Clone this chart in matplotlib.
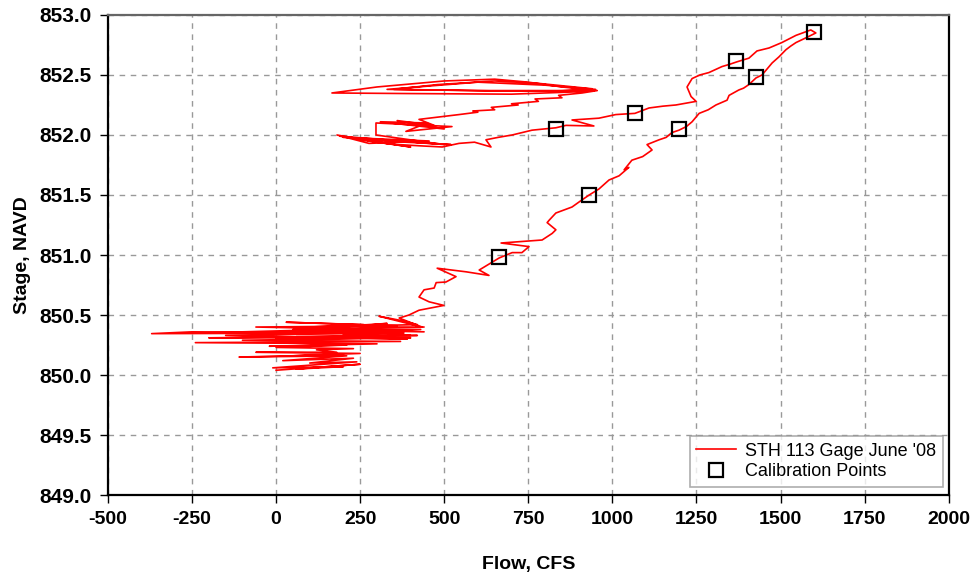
import numpy as np
import matplotlib
matplotlib.use("Agg")
import matplotlib.pyplot as plt

plt.rcParams['font.family'] = ['Liberation Sans', 'DejaVu Sans']

# low water cluster (start of record)
flow_low = [0, 250, 60, 200, -10, 240, 100, 230, 20, 210, -110, 200, 50, 250, -60, 180, 120,
            230, 0, 210, -20, 300, -240, 370, -100, 400, 0, 230, -200, 420, 60, 390, -150,
            330, -370, -250, 380, -280, 150, -50, 430, 80, 300, -60, 360, 30, 260, 100, 440,
            -100, 350, 200, 400, 180, 440, 50, 330, 250, 420, 380]
stage_low = [850.04, 850.09, 850.05, 850.07, 850.06, 850.11, 850.10, 850.14, 850.12, 850.16,
             850.15, 850.17, 850.16, 850.18, 850.19, 850.19, 850.21, 850.22, 850.23, 850.25,
             850.24, 850.26, 850.27, 850.28, 850.29, 850.31, 850.30, 850.31, 850.31, 850.33,
             850.32, 850.30, 850.33, 850.35, 850.345, 850.36, 850.35, 850.35, 850.36, 850.34,
             850.38, 850.37, 850.38, 850.40, 850.41, 850.44, 850.42, 850.40, 850.40, 850.36,
             850.37, 850.34, 850.33, 850.39, 850.36, 850.38, 850.43, 850.41, 850.42, 850.45]

# rising limb
flow_rise = [306, 434, 366, 395, 425, 499, 455, 425, 440, 470, 476, 505, 535, 479, 565, 633,
             604, 642, 663, 702, 731, 752, 669, 791, 821, 832, 806, 812, 832, 880, 905, 931,
             960, 990, 1020, 1049, 1035, 1058, 1090, 1118, 1103, 1139, 1160, 1177, 1198, 1220,
             1237, 1258, 1285, 1308, 1341, 1347, 1376, 1390, 1406, 1427, 1445, 1457, 1475,
             1495, 1516, 1530, 1546, 1576, 1605, 1590]
stage_rise = [850.49, 850.40, 850.475, 850.50, 850.54, 850.58, 850.61, 850.65, 850.71, 850.725,
              850.77, 850.775, 850.82, 850.89, 850.86, 850.83, 850.875, 850.94, 850.975, 851.02,
              851.02, 851.07, 851.10, 851.125, 851.18, 851.21, 851.27, 851.29, 851.35, 851.40,
              851.45, 851.50, 851.55, 851.625, 851.66, 851.73, 851.71, 851.79, 851.82, 851.875,
              851.92, 851.96, 851.98, 852.02, 852.04, 852.07, 852.11, 852.18, 852.21, 852.25,
              852.29, 852.33, 852.375, 852.39, 852.42, 852.475, 852.50, 852.54, 852.60, 852.65,
              852.71, 852.74, 852.77, 852.81, 852.85, 852.875]

# falling limb
flow_fall = [1546, 1504, 1466, 1430, 1406, 1371, 1350, 1326, 1287, 1260, 1237, 1222, 1234,
             1249, 1189, 1150, 1109, 1067, 1010, 960, 880, 945, 862, 832, 761, 702, 660, 624,
             639, 590, 544, 494, 425, 336, 181, 276, 455, 200, 520, 250, 400, 190, 500, 297]
stage_fall = [852.83, 852.77, 852.725, 852.70, 852.64, 852.61, 852.59, 852.57, 852.52, 852.50,
              852.47, 852.40, 852.32, 852.28, 852.25, 852.24, 852.225, 852.18, 852.17, 852.14,
              852.125, 852.075, 852.08, 852.06, 852.04, 852.00, 851.98, 851.96, 851.90, 851.94,
              851.93, 851.90, 851.91, 851.925, 852.00, 851.93, 851.95, 851.98, 851.92, 851.96,
              851.90, 851.99, 851.92, 852.00]

# middle loop and ramp back up
flow_mid = [297, 523, 386, 450, 310, 500, 360, 470, 425, 544, 600, 585, 650, 640, 720, 700,
            780, 770, 850, 840, 910, 955]
stage_mid = [852.10, 852.07, 852.03, 852.10, 852.11, 852.05, 852.12, 852.08, 852.13, 852.17,
             852.19, 852.20, 852.21, 852.23, 852.25, 852.26, 852.28, 852.30, 852.31, 852.33,
             852.35, 852.37]

# top loop
flow_top = [850, 750, 650, 500, 300, 166, 400, 700, 900, 950, 800, 600, 330, 600, 850, 940,
            780, 650, 480, 350, 700, 945]
stage_top = [852.40, 852.44, 852.465, 852.45, 852.40, 852.35, 852.345, 852.34, 852.36, 852.38,
             852.415, 852.44, 852.38, 852.37, 852.37, 852.385, 852.43, 852.45, 852.42, 852.38,
             852.365, 852.37]

cal_flow = [663, 931, 832, 1067, 1198, 1368, 1427, 1599]
cal_stage = [850.98, 851.50, 852.05, 852.18, 852.05, 852.62, 852.48, 852.86]

xticks = [-500, -250, 0, 250, 500, 750, 1000, 1250, 1500, 1750, 2000]
yticks = [849.0, 849.5, 850.0, 850.5, 851.0, 851.5, 852.0, 852.5, 853.0]

flow = np.concatenate([flow_low, flow_rise, flow_fall, flow_mid, flow_top])
stage = np.concatenate([stage_low, stage_rise, stage_fall, stage_mid, stage_top])

fig = plt.figure(figsize=(9.77, 5.75), dpi=100)
ax = fig.add_axes([0.1105, 0.139, 0.8605, 0.835])

ax.plot(flow, stage, color='red', lw=1.2, label="STH 113 Gage June '08", zorder=3)
ax.plot(cal_flow, cal_stage, ls='none', marker='s', ms=10, mfc='none', mec='black',
        mew=1.6, label='Calibration Points', zorder=4)

ax.set_xlim(-500, 2000)
ax.set_ylim(849, 853)
ax.set_xticks(xticks)
ax.set_yticks(yticks)
ax.set_xticklabels([str(v) for v in xticks])
ax.set_yticklabels(['%.1f' % v for v in yticks])
ax.tick_params(direction='out', length=5.5, width=1, pad=6)
ax.tick_params(axis='x', labelsize=14)
ax.tick_params(axis='y', labelsize=15)
for lab in ax.get_xticklabels() + ax.get_yticklabels():
    lab.set_fontweight('bold')

ax.grid(True, ls=(0, (4, 4)), color='#999999', lw=1)
ax.set_axisbelow(True)
for s in ['left', 'bottom', 'right']:
    ax.spines[s].set_linewidth(1.6)
    ax.spines[s].set_color('black')
ax.spines['top'].set_linewidth(1.6)
ax.spines['top'].set_color('#666666')

ax.set_xlabel('Flow, CFS', fontsize=14, fontweight='bold', labelpad=20)
ax.set_ylabel('Stage, NAVD', fontsize=14, fontweight='bold', labelpad=6)

leg = ax.legend(loc='lower right', bbox_to_anchor=(0.997, 0.01), fontsize=13,
                frameon=True, fancybox=False, borderaxespad=0.2, handlelength=2.2,
                handletextpad=0.5, labelspacing=0.2, borderpad=0.35)
leg.get_frame().set_edgecolor('#999999')
leg.get_frame().set_linewidth(1.2)

fig.savefig('out.png', dpi=100)
